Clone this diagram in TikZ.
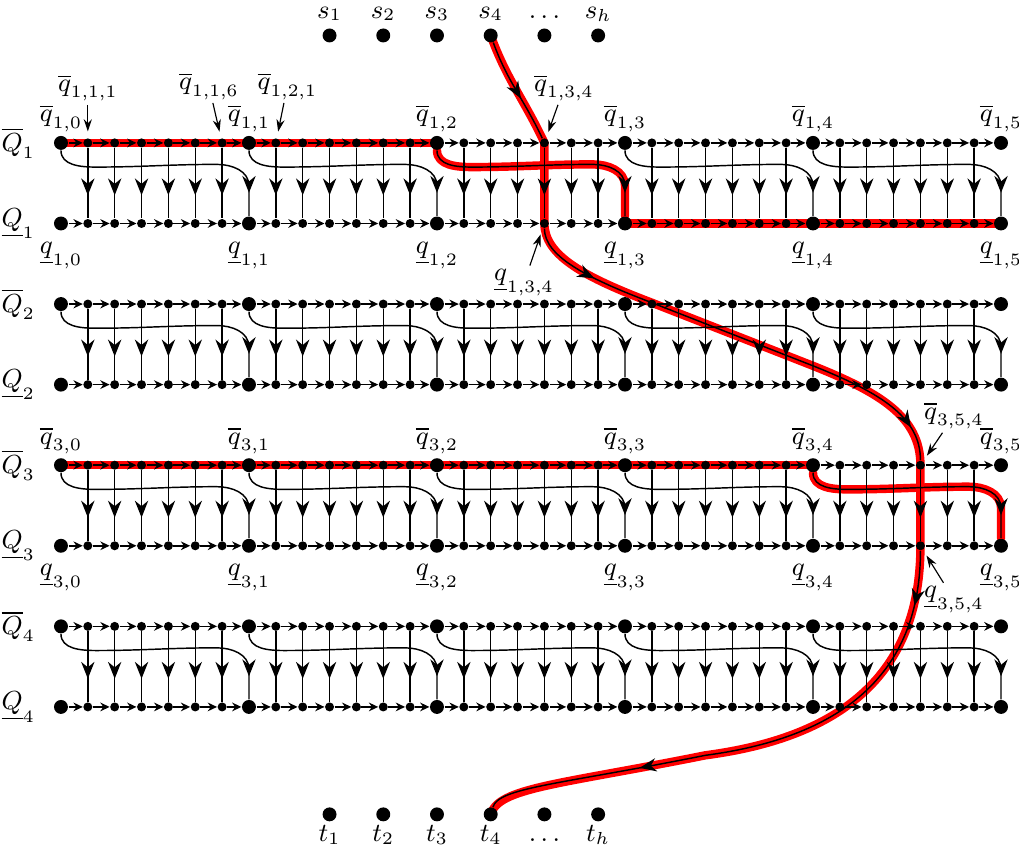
\documentclass[tikz,border=0pt]{standalone}
\usetikzlibrary{arrows.meta,decorations.markings}

\pgfdeclarelayer{background}
\pgfsetlayers{background,main}

\tikzset{
    bigdot/.style={circle, fill, inner sep=0pt, minimum size=4.8pt},
    smalldot/.style={circle, fill, inner sep=0pt, minimum size=3.1pt},
    arrowat/.style={postaction={decorate, decoration={markings,
        mark=at position #1 with {\arrow{Stealth[length=5.8pt,width=4.6pt]}}}}},
    hedge/.style={line width=0.5pt, -{Stealth[length=3.2pt,width=3pt]}},
    vedge/.style={line width=0.5pt, arrowat=-0.28cm},
    band/.style={red, line width=2.9pt, line cap=round, line join=round},
    route/.style={line width=0.5pt},
    pointer/.style={line width=0.4pt, -{Stealth[length=4.2pt,width=2.8pt]}, shorten >=2.2pt},
    lab/.style={inner sep=1pt},
    term/.style={anchor=base, inner sep=0pt}
}

% link from the big node of a top line down to the next big node of the bottom line
\newcommand{\gadgetlink}[3]{(T-#1-#2) to [out=-90,in=180] ++(1.3,-0.9) to [out=0,in=180] ++(4.5,0.1) to [out=0,in=90] ++(1.2,-0.8) -- (B-#1-#3)}

\begin{document}
\begin{tikzpicture}[x=0.325cm, y=0.325cm, font=\fontsize{9}{11}\selectfont]
    \useasboundingbox (-2.27,-26.47) rectangle (35.67,5.32);

    % the four gadgets
    \foreach \r in {1,...,4} {
        \pgfmathsetmacro{\yt}{-6*(\r-1)}
        \foreach \x in {0,...,35} {
            \pgfmathtruncatemacro{\m}{mod(\x,7)}
            \ifnum\m=0
                \node [bigdot] (T-\r-\x) at (\x, \yt) {};
                \node [bigdot] (B-\r-\x) at (\x, \yt-3) {};
            \else
                \node [smalldot] (T-\r-\x) at (\x, \yt) {};
                \node [smalldot] (B-\r-\x) at (\x, \yt-3) {};
                \draw [vedge] (T-\r-\x) -- (B-\r-\x);
            \fi
        }
        \foreach \x [evaluate=\x as \nx using int(\x+1)] in {0,...,34} {
            \draw [hedge] (T-\r-\x) -- (T-\r-\nx);
            \draw [hedge] (B-\r-\x) -- (B-\r-\nx);
        }
        \foreach \j in {0,...,4} {
            \pgfmathtruncatemacro{\a}{7*\j}
            \pgfmathtruncatemacro{\b}{7*\j+7}
            \draw [vedge] \gadgetlink{\r}{\a}{\b};
        }
        \node [anchor=east, inner sep=0pt] (Qt-\r) at (-0.95, \yt) {$\overline{Q}_\r$};
        \node [anchor=east, inner sep=0pt] (Qb-\r) at (-0.95, \yt-3) {$\underline{Q}_\r$};
    }

    \foreach \r in {1,3} {
        \foreach \j in {0,...,5} {
            \pgfmathtruncatemacro{\a}{7*\j}
            \node [lab, above] (tq-\r-\j) at (T-\r-\a.north) {$\overline{q}_{\r,\j}$};
            \node [lab, below=2.5pt] (bq-\r-\j) at (B-\r-\a.south) {$\underline{q}_{\r,\j}$};
        }
    }

    % terminals
    \foreach \k in {1,...,6} {
        \node [bigdot] (s-\k) at (8+2*\k, 4) {};
        \node [bigdot] (t-\k) at (8+2*\k, -25) {};
    }
    \foreach \k/\txt in {1/1, 2/2, 3/3, 4/4, 6/h} {
        \node [term] (ls-\k) at (8+2*\k, 4.65) {$s_\txt$};
        \node [term] (lt-\k) at (8+2*\k, -26.0) {$t_\txt$};
    }
    \node [term] (ls-5) at (18, 4.65) {$\dots$};
    \node [term] (lt-5) at (18, -26.0) {$\dots$};

    % pointers to single nodes
    \node [lab] (p111) at (1, 2.05) {$\overline{q}_{1,1,1}$};
    \node [lab] (p116) at (5.51, 2.12) {$\overline{q}_{1,1,6}$};
    \node [lab] (p121) at (8.43, 2.12) {$\overline{q}_{1,2,1}$};
    \node [lab] (p134) at (18.73, 2.05) {$\overline{q}_{1,3,4}$};
    \node [lab] (m134) at (17.24, -5.2) {$\underline{q}_{1,3,4}$};
    \node [lab] (p354) at (33.25, -10.16) {$\overline{q}_{3,5,4}$};
    \node [lab] (m354) at (33.25, -17.01) {$\underline{q}_{3,5,4}$};
    \draw [pointer] (p111) -- (T-1-1);
    \draw [pointer] (p116) -- (T-1-6);
    \draw [pointer] (p121) -- (T-1-8);
    \draw [pointer] (p134) -- (T-1-18);
    \draw [pointer] (m134) -- (B-1-18);
    \draw [pointer] (p354) -- (T-3-32);
    \draw [pointer] (m354) -- (B-3-32);

    % the route from s_4 to t_4
    \coordinate (r1) at (22,-5.95);
    \coordinate (r2) at (28,-8.3);
    \coordinate (r3) at (24,-22.8);
    \draw [route, arrowat=0.58] (s-4) to [out=-70,in=115] (T-1-18);
    \draw [route, arrowat=0.16, arrowat=0.925] (B-1-18) .. controls (18,-4.2) and (19.5,-5) .. (r1) -- (r2) .. controls (30.5,-9.3) and (32,-10.2) .. (T-3-32);
    \draw [route, arrowat=0.1, arrowat=0.72] (B-3-32) .. controls (32,-19.6) and (29.3,-22.1) .. (r3) .. controls (18.5,-23.9) and (16.3,-24) .. (t-4);

    \begin{pgfonlayer}{background}
        \draw [band] (T-1-0.center) -- (T-1-14.center);
        \draw [band] \gadgetlink{1}{14}{21};
        \draw [band] (B-1-21.center) -- (B-1-35.center);
        \draw [band] (T-3-0.center) -- (T-3-28.center);
        \draw [band] \gadgetlink{3}{28}{35};
        \draw [band] (s-4.center) to [out=-70,in=115] (T-1-18.center) -- (B-1-18.center) .. controls (18,-4.2) and (19.5,-5) .. (r1) -- (r2) .. controls (30.5,-9.3) and (32,-10.2) .. (T-3-32.center) -- (B-3-32.center) .. controls (32,-19.6) and (29.3,-22.1) .. (r3) .. controls (18.5,-23.9) and (16.3,-24) .. (t-4.center);
    \end{pgfonlayer}
\end{tikzpicture}
\end{document}
